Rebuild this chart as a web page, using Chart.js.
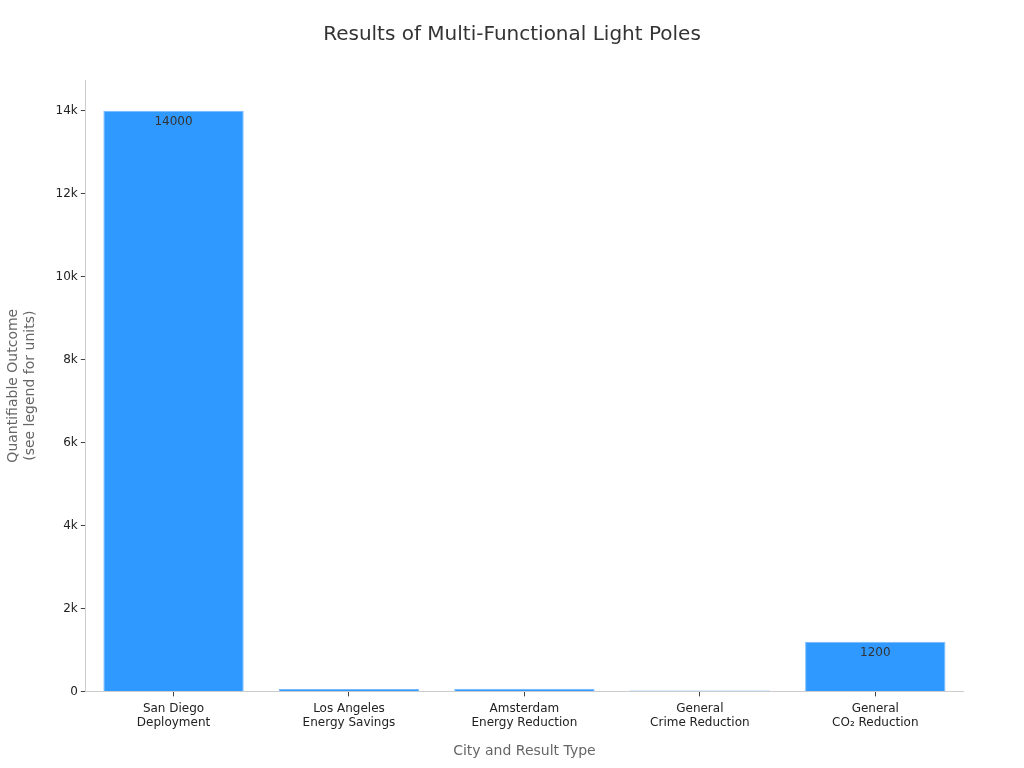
<!DOCTYPE html>
<html>
<head>
<meta charset="utf-8">
<script src="https://cdn.jsdelivr.net/npm/chart.js@4"></script>
<style>
  html, body { margin: 0; padding: 0; background: #fff; }
  #wrap { width: 1024px; height: 768px; }
</style>
</head>
<body>
<div id="wrap"><canvas id="chart" width="1024" height="768"></canvas></div>
<script>
// data
const categories = [
  ['San Diego', 'Deployment'],
  ['Los Angeles', 'Energy Savings'],
  ['Amsterdam', 'Energy Reduction'],
  ['General', 'Crime Reduction'],
  ['General', 'CO\u2082 Reduction']
];
const outcomes = [14000, 60, 65, 20, 1200];
const yTicks = [0, 2000, 4000, 6000, 8000, 10000, 12000, 14000];
const chartTitle = 'Results of Multi-Functional Light Poles';

// value text inside bars that are tall enough
const barLabels = {
  id: 'barLabels',
  afterDatasetsDraw(chart) {
    const ctx = chart.ctx;
    const meta = chart.getDatasetMeta(0);
    ctx.save();
    ctx.font = '12px "DejaVu Sans", sans-serif';
    ctx.fillStyle = '#333';
    ctx.textAlign = 'center';
    ctx.textBaseline = 'middle';
    meta.data.forEach((bar, i) => {
      if (bar.base - bar.y < 20) return;
      ctx.fillText(String(outcomes[i]), bar.x, bar.y + 11);
    });
    ctx.restore();
  }
};

// title centred on the whole canvas, not the padded box
const pageTitle = {
  id: 'pageTitle',
  afterDraw(chart) {
    const ctx = chart.ctx;
    ctx.save();
    ctx.font = '20px "DejaVu Sans", sans-serif';
    ctx.fillStyle = '#333';
    ctx.textAlign = 'center';
    ctx.textBaseline = 'middle';
    ctx.fillText(chartTitle, chart.width / 2, 35);
    ctx.restore();
  }
};

const ctx = document.getElementById('chart').getContext('2d');
new Chart(ctx, {
  type: 'bar',
  data: {
    labels: categories,
    datasets: [{
      label: 'Outcome',
      data: outcomes,
      backgroundColor: 'rgba(30, 144, 255, 0.92)',
      borderColor: 'rgba(120, 185, 255, 1)',
      borderWidth: 1,
      borderSkipped: 'bottom',
      barPercentage: 0.8,
      categoryPercentage: 1.0
    }]
  },
  options: {
    responsive: false,
    animation: false,
    layout: { padding: { left: 1, right: 61, top: 80, bottom: 4 } },
    plugins: {
      legend: { display: false },
      tooltip: { enabled: false },
      title: { display: false }
    },
    scales: {
      x: {
        grid: { display: true, offset: false, drawOnChartArea: false, drawTicks: true, tickLength: 5, tickColor: '#444' },
        border: { display: true, color: '#ccc' },
        ticks: {
          color: '#222',
          font: { family: '"DejaVu Sans", sans-serif', size: 12 },
          maxRotation: 0,
          padding: 5
        },
        title: {
          display: true,
          text: 'City and Result Type',
          color: '#666',
          font: { family: '"DejaVu Sans", sans-serif', size: 14 },
          padding: { top: 8 }
        }
      },
      y: {
        min: 0,
        max: 14740,
        afterBuildTicks(axis) {
          axis.ticks = yTicks.map(v => ({ value: v }));
        },
        grid: { display: true, drawOnChartArea: false, drawTicks: true, tickLength: 5, tickColor: '#444' },
        border: { display: true, color: '#ccc' },
        ticks: {
          color: '#222',
          font: { family: '"DejaVu Sans", sans-serif', size: 12 },
          padding: 3,
          callback: v => v === 0 ? '0' : (v / 1000) + 'k'
        },
        title: {
          display: true,
          text: ['Quantifiable Outcome', '(see legend for units)'],
          color: '#666',
          font: { family: '"DejaVu Sans", sans-serif', size: 14 },
          padding: { bottom: 14 }
        }
      }
    }
  },
  plugins: [barLabels, pageTitle]
});
</script>
</body>
</html>
